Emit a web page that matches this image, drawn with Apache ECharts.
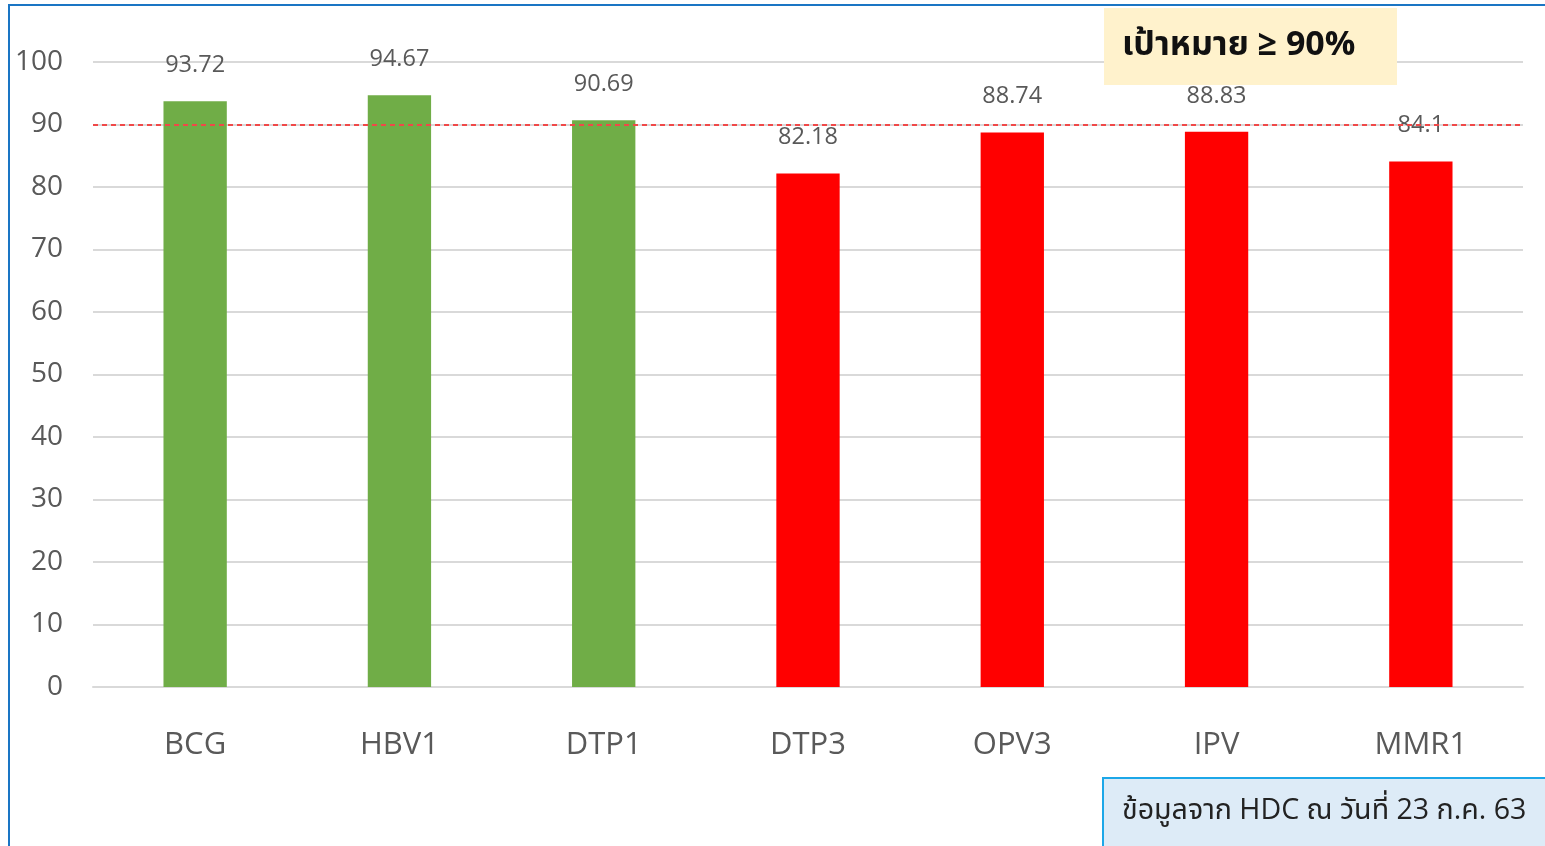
<!DOCTYPE html>
<html><head><meta charset="utf-8">
<script src="https://cdn.jsdelivr.net/npm/echarts@6/dist/echarts.min.js"></script>
<style>html,body{margin:0;padding:0;background:#fff}#c{width:1545px;height:846px}</style>
</head><body><div id="c"></div>
<script>
const categories = ['BCG','HBV1','DTP1','DTP3','OPV3','IPV','MMR1'];
const values = [93.72, 94.67, 90.69, 82.18, 88.74, 88.83, 84.1];
const target = 90;
const yTicks = [0,10,20,30,40,50,60,70,80,90,100];
const targetText = 'เป้าหมาย ≥ 90%';
const sourceText = 'ข้อมูลจาก HDC ณ วันที่ 23 ก.ค. 63';

const FONT = '"Open Sans","Noto Sans","Noto Sans Thai",Tahoma,sans-serif';
const chart = echarts.init(document.getElementById('c'));
chart.setOption({
  animation: false,
  backgroundColor: '#fff',
  grid: {left: 93, right: 22, top: 62, bottom: 159, containLabel: false},
  xAxis: {
    type: 'category', data: categories,
    axisLine: {lineStyle: {color: '#d9d9d9', width: 2}},
    axisTick: {show: false},
    axisLabel: {color: '#595959', fontSize: 31, margin: 43, fontFamily: FONT}
  },
  yAxis: {
    type: 'value', min: yTicks[0], max: yTicks[yTicks.length-1], interval: 10,
    axisLine: {show: false}, axisTick: {show: false},
    axisLabel: {color: '#595959', fontSize: 28, margin: 30, fontFamily: FONT},
    splitLine: {lineStyle: {color: '#d9d9d9', width: 2}}
  },
  series: [{
    type: 'bar',
    data: values.map(v => ({value: v, itemStyle: {color: v >= target ? '#70AD47' : '#FF0000'}})),
    barWidth: '31%',
    label: {show: true, position: 'top', distance: 24, color: '#595959', fontSize: 23.5, fontFamily: FONT},
    markLine: {
      silent: true, symbol: 'none',
      label: {show: false},
      lineStyle: {color: '#f04848', type: [5,4], width: 2},
      data: [{yAxis: target}]
    },
    z: 2
  }],
  graphic: [
    {type: 'rect', left: 9, top: 4, shape: {width: 1536, height: 2}, style: {fill: '#1a75c4'}, z: 10},
    {type: 'rect', left: 8, top: 4, shape: {width: 2, height: 842}, style: {fill: '#1a75c4'}, z: 10},
    {type: 'rect', left: 1104, top: 8, shape: {width: 293, height: 77}, style: {fill: '#FFF2CC'}, z: 20},
    {type: 'text', left: 1122, top: 28, style: {text: targetText, fill: '#111', font: 'bold 34px ' + FONT}, z: 21},
    {type: 'rect', left: 1102, top: 777, shape: {width: 460, height: 80}, style: {fill: '#DDEBF7', stroke: '#1CA7E8', lineWidth: 2}, z: 20},
    {type: 'text', left: 1122, top: 796, style: {text: sourceText, fill: '#222', font: '28.6px ' + FONT}, z: 21}
  ]
});
</script></body></html>
